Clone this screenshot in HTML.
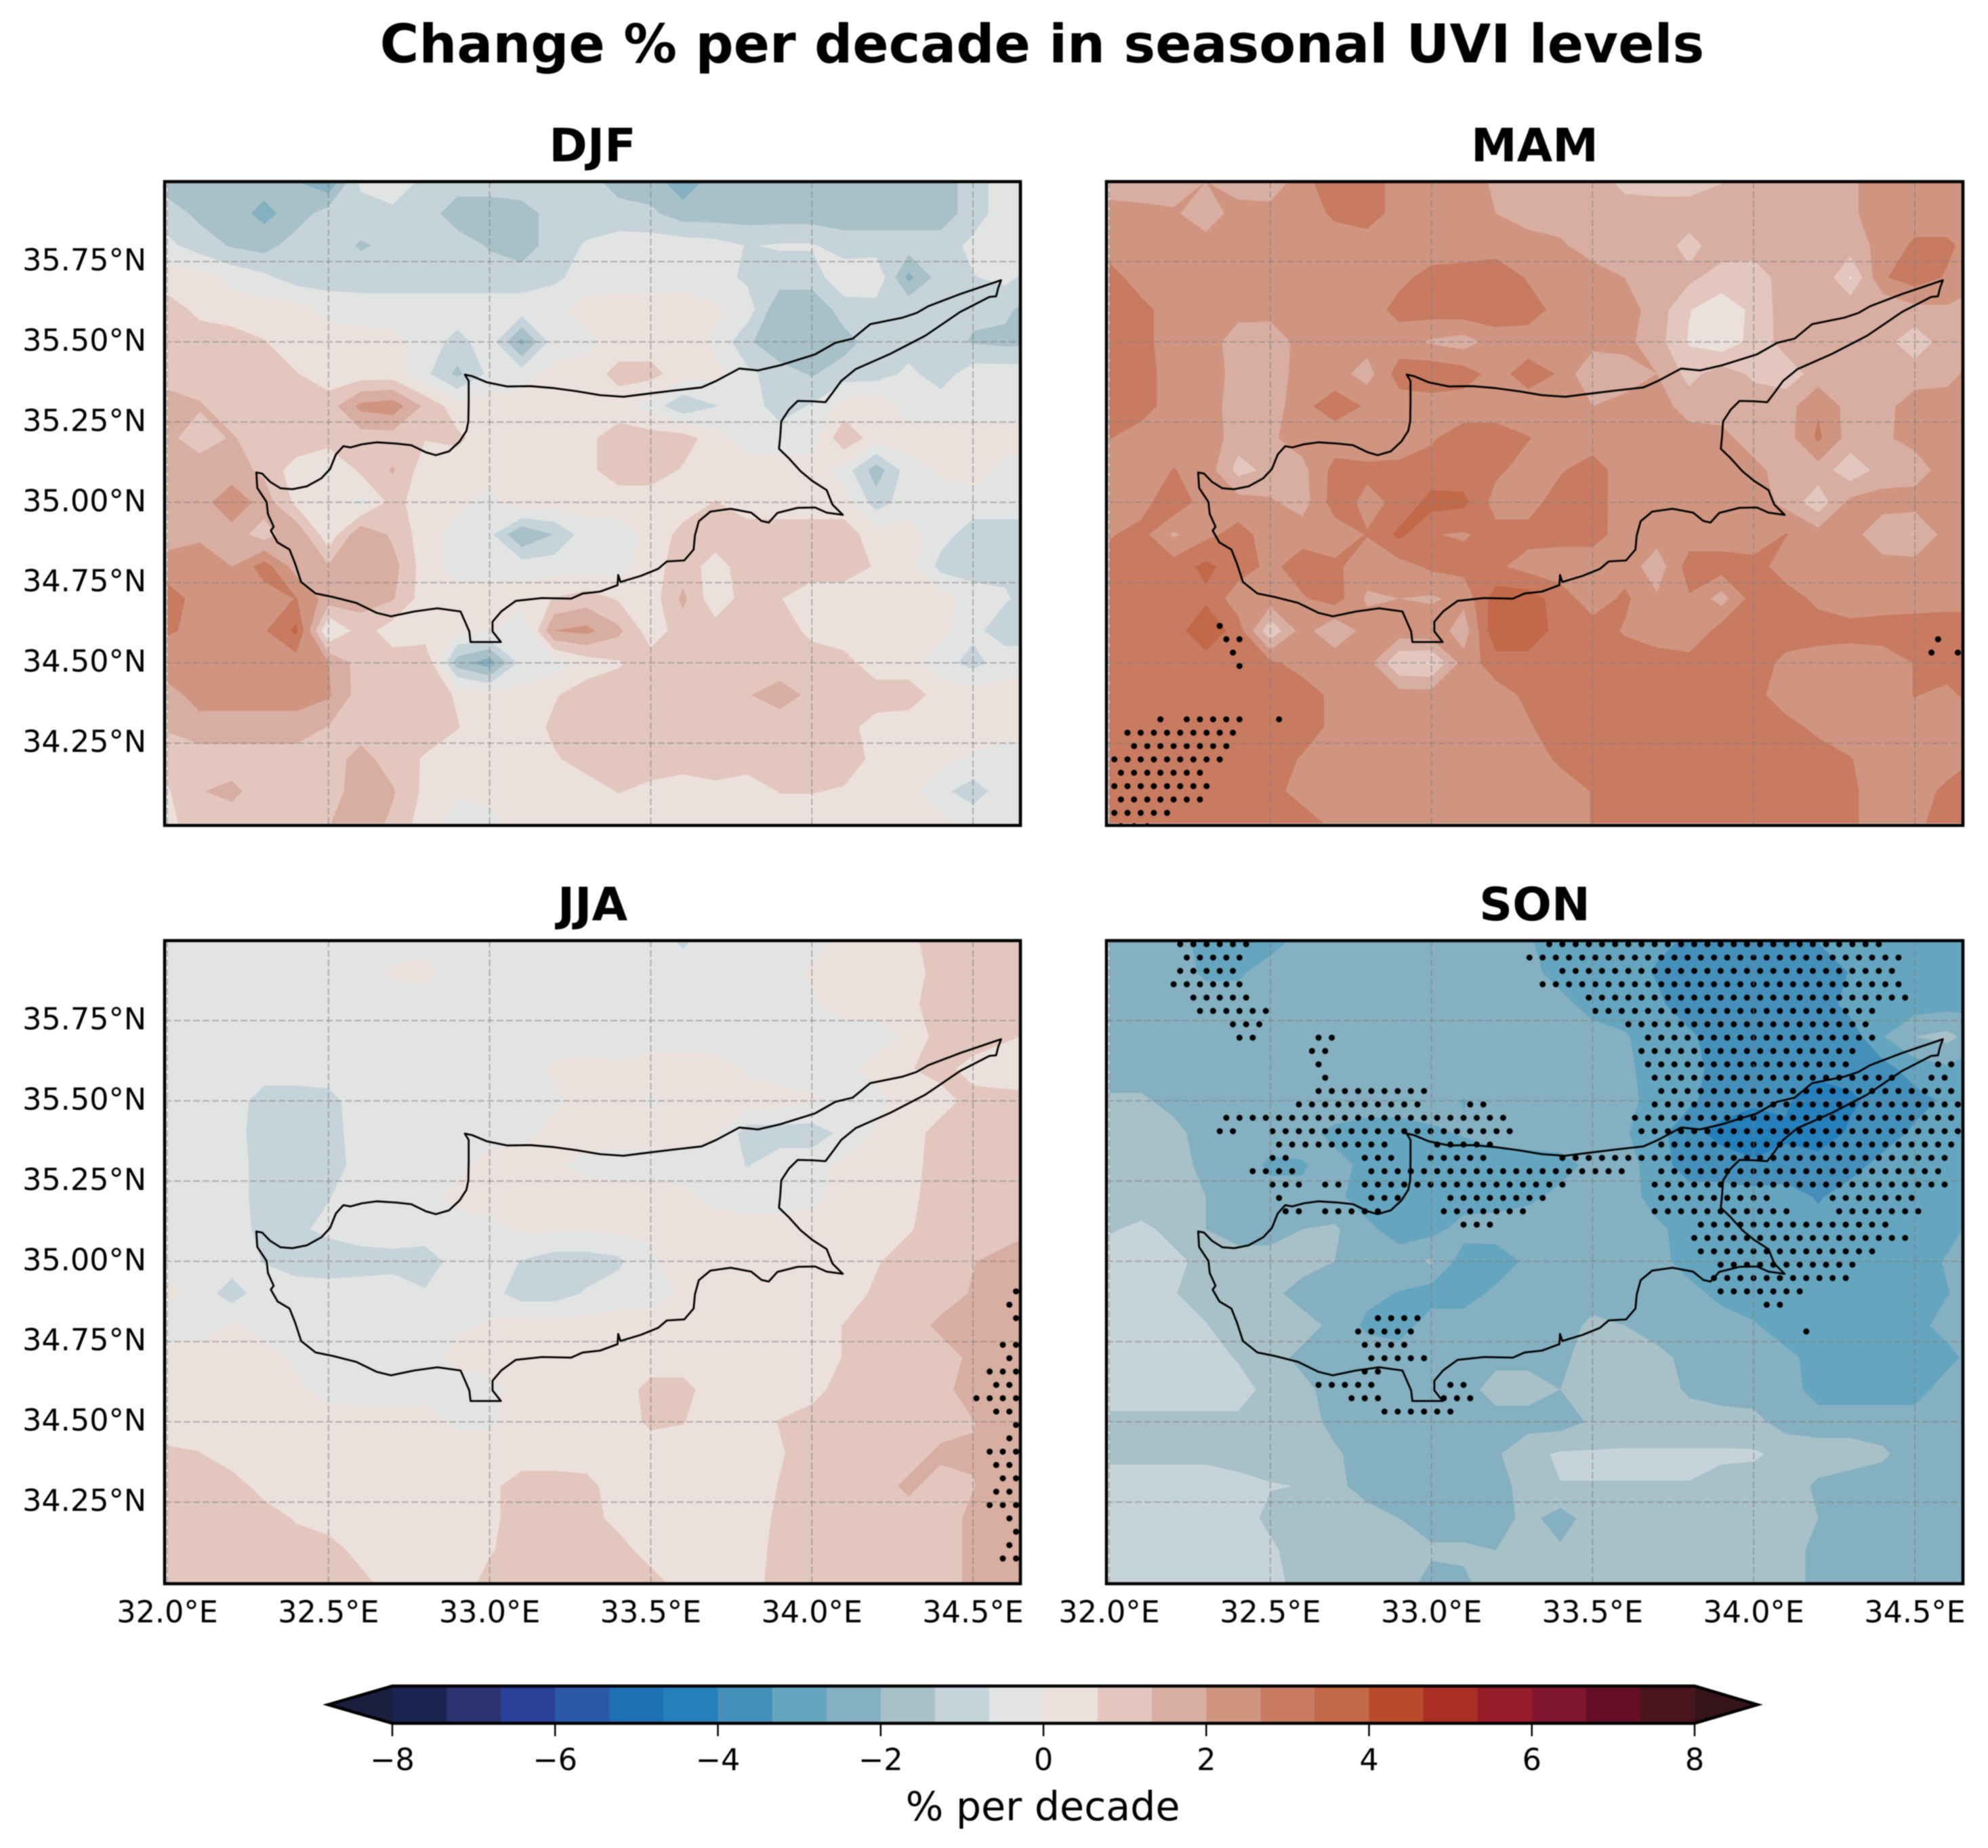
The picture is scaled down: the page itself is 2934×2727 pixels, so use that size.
<!DOCTYPE html>
<html lang="en">
<head>
<meta charset="utf-8">
<title>Change % per decade in seasonal UVI levels</title>
<style>
html,body{margin:0;padding:0;background:#fff;}
svg{display:block;filter:blur(0.9px);}
text{font-family:"DejaVu Sans","Liberation Sans",sans-serif;fill:#000;}
</style>
</head>
<body>
<svg id="figure" xmlns="http://www.w3.org/2000/svg" width="2934" height="2727" viewBox="0 0 2934 2727">
<rect x="0" y="0" width="2934" height="2727" fill="#ffffff"/>
<text x="1538" y="92" font-size="78.6" font-weight="700" text-anchor="middle">Change % per decade in seasonal UVI levels</text>
<text x="1539" y="2686" font-size="58.6" text-anchor="middle">% per decade</text>
</svg>
<script>
const gridLons = [32.0,32.1,32.2,32.3,32.4,32.5,32.6,32.7,32.8,32.9,33.0,33.1,33.2,33.3,33.4,33.5,33.6,33.7,33.8,33.9,34.0,34.1,34.2,34.3,34.4,34.5,34.6,34.7];
const gridLats = [36.0,35.9,35.8,35.7,35.6,35.5,35.4,35.3,35.2,35.1,35.0,34.9,34.8,34.7,34.6,34.5,34.4,34.3,34.2,34.1,34.0];
const lonTicks = [32.0,32.5,33.0,33.5,34.0,34.5];
const latTicks = [35.75,35.5,35.25,35.0,34.75,34.5,34.25];
const colorbarTicks = [-8,-6,-4,-2,0,2,4,6,8];
const colorbarLevels = [-8,-7.333,-6.667,-6,-5.333,-4.667,-4,-3.333,-2.667,-2,-1.333,-0.667,0,0.667,1.333,2,2.667,3.333,4,4.667,5.333,6,6.667,7.333,8];
const colorbarColors = ["#1c2452","#2a3270","#2a3f96","#2b59a7","#1f6fb5","#257fbb","#458fbb","#65a5bf","#85b0c1","#a8c0c7","#c7d3da","#e2e4e4","#ece0dd","#e3c7bf","#d9aea2","#d09580","#c97b61","#c36848","#b84b2c","#a82e26","#961c2a","#7f162d","#640f27","#49151d"];
const underColor = "#1a1f40";
const overColor = "#34141a";

const djfValues = [
[-1.7,-1.7,-1.7,-1.7,-2,-2.6,-.5,.2,-1,-1,-1,-.8,-1,-1,-1.7,-1.7,-2.4,-1.7,-1.7,-1.7,-1.7,-1.7,-1.7,-1.7,-1.7,-1,-.3,-.3],
[-1,-1.5,-1.7,-2.2,-1.7,-1,-1,-1,-1,-1.7,-1.7,-1.7,-1,-1,-1,-1.2,-1.7,-1.7,-1.7,-1.7,-1.7,-1.7,-1.7,-1.7,-1.7,-1,-.3,-.3],
[-.5,-1,-1.4,-1.6,-1,-1,-1.4,-1.2,-1,-1,-1.4,-1.7,-1,-.6,-.4,-.3,-.3,-.4,-.7,-.6,-.6,-1,-1,-1,-1,-.5,-.3,-.3],
[.3,.3,-.2,-.5,-1,-1,-1,-1,-1,-1,-1,-1,-.8,-.4,-.3,-.3,-.2,-.4,-.8,-1,-1,-.2,-.1,-2.2,-1,-.7,-.5,-1],
[1,.5,.3,.3,.3,-.2,-.3,-.3,-.3,-.3,-.3,-.3,-.2,.3,.3,.3,.3,.1,-.3,-1.9,-1.9,-1,-1,-.7,-1,-1.2,-1.2,-1.7],
[1,1,1,.7,.3,.3,.3,.2,-.3,-.9,-.3,-2.2,-.3,-.2,.3,.3,.3,-.1,-1.2,-1.9,-1.9,-1.6,-1,-1,-1,-1.4,-1.5,-1.5],
[1,1,1,1,.7,.3,.3,.3,-.5,-1.5,-.5,-.3,.2,.3,.9,.9,.3,.2,-.5,-1,-1.4,-1,-1,-.5,-1,-.3,-.3,-.3],
[1.7,1.4,1,1,1,1,2.2,2.4,1.2,.3,.3,.3,.3,.3,.3,-.3,-1.2,-.7,-.3,-1,-.6,.3,.5,-.3,-.3,-.3,-.3,-.3],
[1.5,1,1.4,1,1.2,1,1,1,.7,.8,.3,.3,.3,.5,1,1,1,.3,-.3,-.3,-.3,1.2,.3,.3,.3,.3,.3,.3],
[1.7,1.7,1.6,1.2,.3,-.1,.8,1.4,.3,.3,.3,.3,.3,.5,1,1,.6,.3,.3,.3,.3,-.3,-1.7,-.3,.1,.3,-.3,-.3],
[1.7,1.7,2.5,1.7,.5,.4,-.2,.9,.3,.2,-.3,.6,.3,.3,.3,.3,.3,.7,.3,.3,.3,.3,-1,-.3,-.3,-.3,-.3,-.3],
[1.7,1.9,1.7,1,1.9,.2,1.9,1.2,.3,-.3,-.5,-2,-1.3,-.3,-.3,.2,.9,1,1,1,1,1,.3,.3,-.4,-1,-1,-1],
[2.3,2.3,2,3,1.7,1.4,1.8,1.6,.3,-.3,-.3,-.3,-.3,-.3,-.3,.4,1,.4,1,1,1,1,.6,.3,-.9,-1,-.8,-1],
[3,2.4,2.4,2.3,2.7,1.7,1.6,1.4,.3,.3,.3,.3,.7,1,.6,.3,1.5,.2,1,.7,.3,.3,.3,.3,.3,-.3,-.6,-1],
[2.7,2.6,2.5,2.6,3.5,-.1,1,.3,.2,.1,.1,-.6,2,2.2,1.5,.3,1,1,1,1,.5,.3,.3,.3,.2,-.5,-1,-1],
[2.5,2.5,2.5,2.4,2.3,2,1,1,1.3,-1.7,-2.4,-.4,-.3,.3,.6,1,1,1,1,1,1,.9,.3,.3,-.4,-.9,-.3,-.3],
[1.7,2.3,2.3,2.3,2.3,2.1,1,1,1,.6,.3,.2,.6,1,1,1.1,1,1,1.3,1.6,1.2,1,1,1,.4,.3,.3,.3],
[1.4,1.7,1.7,1.7,1.7,1.3,1,1,1,.7,.3,.3,.8,1,1,1,1,1,1,1,1,.9,.4,.3,.6,.3,.3,.3],
[1,1,1,1,1,1,1.6,1,.6,.3,.3,.3,.6,.9,1,1,1,1,1,1,1,1,.5,.3,.2,-.1,-.3,-.3],
[.6,1.3,1.5,1,1,1,1.7,1.4,.5,.1,.2,.3,.4,.4,.7,.5,.3,.5,.3,.7,.7,.6,.3,.3,-.5,-1,-.3,-.3],
[.5,1,1,1,.9,1.3,1.7,1.2,.3,-.3,-.2,.3,.3,.3,.3,.3,.3,.3,.3,.3,.3,.3,.3,.3,.2,-.2,-.3,-.3]
];

const mamValues = [
[1.6,1.4,1.6,2,1.6,1.5,2.4,3.2,3,2.4,2.3,2.3,1.9,1.7,1.7,1.7,1.1,1,1,1.3,1.7,1.7,1.7,1.9,2.3,2.3,2.3,2.3],
[2.3,2.3,2.1,1.6,2.3,2.3,2.3,2.8,3,2.4,2.3,2.3,2,1.7,1.7,1.7,1.7,1.7,1.7,1.7,1.7,1.7,1.7,1.9,2.3,2.3,2.3,2.3],
[2.3,2.3,2.3,2.3,2.3,2.3,2.3,2.3,2.3,2.3,2.3,2.3,2.3,2.3,2.1,1.7,1.7,1.7,1.1,1.7,1.7,1.7,1.7,1.7,2.2,2.8,2.8,2.3],
[3,2.3,2.3,2.3,2.3,2.3,2.3,2.3,2.3,2.5,2.9,3,3.2,2.6,2.3,2.3,2,1.7,1.5,1,.9,1.7,2,.6,2.6,3,2.6,2.3],
[3,2.9,2.3,2.3,2.2,2.3,2.3,2.3,2.3,2.9,3,3.1,3.1,3,2.4,2.3,2.3,1.7,.7,.3,.8,1.7,1.8,1.9,1.4,1.8,1.9,1.4],
[3,2.9,2.3,2.3,1.7,1.5,2.3,2.3,2.3,2.3,1.9,1.7,2.3,2.3,2.3,2.3,2.2,1.6,.6,.2,.9,1.6,1.5,1.6,1.6,.9,1.7,2.1],
[3,3,2.3,2.3,1.8,1.6,2.3,2.3,1.7,3,3.2,3,2.4,3,2.6,1.3,1.7,2,1.1,1.7,1.2,1,1.6,1.7,1.5,1.7,1.8,2.3],
[3,3,2.3,2.3,1.7,1.6,2.5,3,2.6,2.3,2.3,2.3,2.3,2.3,2.3,2,2.2,2.3,1.7,1.7,1.7,1.7,2.6,1.7,1.8,2.3,2.3,2.3],
[2.7,2.3,2.3,2.5,1.6,1.9,2.3,2.3,2.3,2.6,2.6,3,3,2.7,2.4,2.3,2.3,2.3,2.3,2.2,1.7,1.7,2.8,1.7,1.9,2.2,2.3,2.3],
[2.3,2.3,2.7,2.4,1.1,1.5,1.8,2.9,2.8,2.7,2.9,3,2.8,2.4,2.6,3,2.3,2.3,2.3,2.3,2.2,1.7,1.7,.9,1.6,1.7,2.3,2.3],
[2.3,2.4,3.2,2.3,2.3,2.1,1.7,3,2.5,2.8,3.6,3.5,2.4,2.4,3,3,2.3,2.3,2.3,2.3,2.3,1.8,.9,2.2,2.3,2.3,2.3,2.3],
[2.6,2.9,1.9,2.5,2.9,2.4,2.4,2.3,2.7,3.5,2.7,2.6,2.9,2.9,2.9,2.9,2.4,2.3,2.3,2.3,2.1,2.7,2.3,2.3,1.5,1.3,2.3,2.3],
[3,3,3,3.5,3,2.5,3,2.8,2.3,2.4,2.8,2.9,2.8,2.4,2.3,2.3,2.4,1.6,3,3,3,2.3,2.3,2.3,2.3,2.3,2.3,2.3],
[3,3,3,3.2,2.3,2.4,2.6,3,1.9,2,1.9,2.2,3.7,3.7,3,2.3,2.8,2.1,2.6,1.7,3,3,2.5,2.3,2.3,2.3,2.3,2.3],
[3,3,3,3.9,3,.8,2.3,1.4,2.3,2.4,2.5,1.6,3.9,3.9,3,3,2.6,2.3,2,3,3,3,3,2.9,3,3.1,3.2,3.2],
[3,3,3,3,3,2.8,2.4,2.5,2.3,.7,.6,2.3,3,3,3,3,3,3,3,3,3,2.5,2.3,2.3,2.3,2.7,3,3],
[3,3,3,3,3,3,3,2.5,2.3,2.3,2.3,2.3,2.4,2.8,3,3,3,3,3,3,2.9,2.3,2.3,2.3,2.3,2.7,2.5,3],
[3,3,3,3,3,3,3,2.5,2.3,2.3,2.3,2.3,2.4,2.6,3,3,3,3,3,3,3,2.9,2.5,2.3,2.3,2.3,2.3,2.3],
[3,3,3,3,3,3,2.6,2.3,2.3,2.3,2.3,2.3,2.3,2.3,2.8,3,3,3,3,3,3,3,3,2.7,2.3,2.3,2.4,2.7],
[3,3,3,3,3,2.9,2.4,2.3,2.3,2.3,2.3,2.3,2.3,2.3,2.3,2.7,3,3,3,3,3,3,3,2.8,2.3,2.4,2.8,3],
[3,3,3,3,3,3,3,2.5,2.3,2.3,2.3,2.3,2.3,2.3,2.3,2.7,3,3,3,3,3,3,3,2.8,2.3,2.5,3,3]
];

const jjaValues = [
[-.3,-.3,-.3,-.3,-.3,-.5,-.3,-.3,-.3,-.3,-.3,-.3,-.3,-.3,-.3,-.3,-.8,-.3,-.3,-.3,-.3,.3,.3,.5,1,1,1,1],
[-.3,-.3,-.3,-.3,-.3,-.3,-.3,.1,.2,-.3,-.3,-.3,-.3,-.3,-.3,-.3,-.3,-.3,-.3,-.3,.1,.3,.3,.3,1,1,1,1],
[-.3,-.3,-.3,-.3,-.3,-.3,-.3,-.3,-.3,-.3,-.3,-.3,-.3,-.3,-.3,-.3,-.3,-.3,-.3,-.3,-.1,.3,.3,.5,1,1,1,1],
[-.3,-.3,-.3,-.3,-.3,-.3,-.3,-.3,-.3,-.3,-.3,-.3,-.3,-.3,-.3,-.3,-.3,-.3,-.3,-.3,-.3,-.3,-.3,.1,1,1.2,.8,.5],
[-.3,-.3,-.3,-.3,-.3,-.3,-.3,-.3,-.3,-.3,-.3,-.3,.1,.2,.1,.3,.3,.3,-.1,-.3,-.3,-.2,.3,.6,1,.3,.1,-.1],
[-.3,-.3,-.3,-1,-1,-.9,-.3,-.3,-.3,-.3,-.3,-.3,-.1,.2,.2,-.1,.2,.3,.3,.3,.1,-.3,-.2,.3,.3,1,1,1],
[-.3,-.3,-.4,-1,-1,-1,-.3,-.3,-.3,-.3,-.3,-.2,.2,.3,.3,.3,.3,.1,-1,-1,-1,-.5,.1,.3,1,1,1,1],
[-.3,-.3,-.3,-1,-1,-1,-.4,-.3,-.3,-.2,.3,.3,.1,-.2,-.3,-.3,-.3,-.3,-.7,-.3,-.3,.2,.3,.4,1,1,1,1],
[-.3,-.3,-.3,-1,-.9,-.7,-.3,-.3,-.2,.2,.3,.3,.3,.3,.3,.3,.2,-.2,-.3,-.3,-.2,.3,.3,.5,1,1,1,1],
[-.3,-.3,-.3,-.9,-.8,-.5,-.3,-.3,-.3,-.3,-.2,.1,.1,.1,.1,.1,.3,.3,.3,.3,.3,.3,.3,.6,1,1,1,1.3],
[-.3,-.3,-.3,-.7,-1,-1.1,-1,-.9,-1,-.4,-.3,-.7,-1,-1,-.8,-.1,.3,.3,.3,.3,.3,.3,.6,1,1,1.3,1.6,1.7],
[.2,-.3,-1,-.3,-.3,-.3,-.3,-.3,-.6,-.3,-.4,-1,-1,-.6,-.3,-.3,.1,.3,.3,.3,.3,.3,.8,1,1,1.4,1.8,1.8],
[-.3,-.3,.1,-.2,-.3,-.3,-.3,-.3,-.3,-.1,.1,.3,.3,.3,.3,.3,.3,.3,.3,.3,.3,.7,1,1,1.5,1.8,1.8,1.7],
[.3,.3,.3,.2,-.1,-.2,-.3,-.3,-.2,.2,.3,.3,.3,.3,.3,.3,.3,.3,.3,.3,.3,.7,1,1,1,1.5,1.8,1.8],
[.3,.3,.3,.3,.1,-.2,-.3,-.3,-.3,-.3,-.2,.3,.3,.5,.3,.9,.9,.3,.3,.3,.4,1,1,1,1.1,1.7,1.8,1.8],
[.3,.3,.3,.3,.3,.3,.3,.3,.3,-.1,-.1,.3,.3,.3,.3,.8,.7,.3,.3,.7,1,1,1,1,1,1.3,1.7,1.8],
[.8,.7,.3,.3,.3,.3,.3,.3,.3,.3,.3,.3,.3,.3,.3,.3,.3,.3,.3,.6,1,1,1,1,1.5,1.4,1.8,1.8],
[1,1,1,.4,.3,.3,.3,.3,.3,.3,.5,1,1,.9,.3,.3,.3,.3,.3,.7,1,1,1,1.5,1,1.3,1.8,1.8],
[1,1,1,1,.6,.3,.3,.3,.3,.3,.5,1,1,1,.4,.3,.3,.3,.3,.8,1,1,1,1,1,1.5,1.8,1.8],
[1,1,1,1,1,1,.4,.3,.3,.3,.6,1,1,1,1,.3,.3,.3,.3,.9,1,1,1,1,1,1.5,1.8,1.8],
[1,1,1,1,1,1,.9,.3,.3,.3,.9,1,1,1,1,1,.3,.3,.3,1,1,1,1,1,1,1.5,1.8,1.8]
];

const sonValues = [
[-2.3,-2.3,-2.4,-2.9,-3,-3,-2.4,-2.3,-2.3,-2.3,-2.2,-2.3,-2.3,-2.6,-3,-3,-3,-3.2,-3.4,-3.5,-3.5,-3.5,-3.3,-3,-3,-3,-3,-3],
[-2.3,-2.3,-2.3,-2.8,-2.8,-2.3,-2.3,-2.3,-2.3,-2.3,-2.3,-2.3,-2.3,-2.4,-3,-3,-3,-3.4,-3.8,-3.8,-3.8,-3.8,-3.7,-3.3,-3,-3,-3,-3],
[-2.3,-2.3,-2.3,-2.3,-2.3,-2.3,-2.3,-2.3,-2.3,-2.3,-2.3,-2.3,-2.3,-2.3,-2.4,-3,-3,-3.2,-3.7,-3.8,-3.9,-3.8,-3.7,-3.1,-3,-3,-2.9,-2.8],
[-2.2,-2.3,-2.3,-2.3,-2.3,-2.3,-2.3,-2.3,-2.3,-2.3,-2.3,-2.3,-2.3,-2.3,-2.3,-2.3,-2.6,-3,-3.2,-3.7,-3.8,-3.8,-3.7,-3.7,-2.7,-2,-1.8,-2.4],
[-2.3,-2.3,-2.3,-2.3,-2.3,-2.3,-2.3,-2.3,-2.3,-2.3,-2.3,-2.3,-2.3,-2.3,-2.3,-2.3,-2.5,-3,-3.1,-3.6,-3.7,-3.6,-3.7,-3.8,-3.6,-3,-2.8,-3],
[-1.9,-1.9,-2.2,-2.3,-2.3,-2.3,-2.3,-2.3,-2.3,-2.3,-2.3,-2.7,-2.4,-2.3,-2.3,-2.3,-2.4,-3,-3.2,-3.7,-3.8,-3.9,-4.5,-4.1,-3.8,-3.6,-3.2,-3],
[-1.7,-1.7,-1.8,-2.3,-2.3,-2.3,-2.5,-2.8,-3,-3,-2.8,-2.6,-2.4,-2.3,-2.3,-2.3,-2.6,-3.1,-3.8,-4.2,-4.7,-4.1,-4.4,-3.9,-3.7,-3.2,-3,-3],
[-1.7,-1.7,-1.7,-2.2,-2.3,-2.8,-2.7,-2.5,-2.8,-2.9,-3,-3.1,-3,-3,-2.9,-2.5,-2.4,-3,-3.7,-3.7,-3.8,-3.8,-3.7,-3.6,-3.1,-3,-3,-3],
[-1.7,-1.7,-1.7,-2,-2.3,-2.4,-2.6,-2.5,-3,-3,-3,-3,-3,-2.8,-2.5,-2.3,-2.3,-3,-3,-3,-3.1,-3,-3.4,-3,-3,-3,-3,-2.8],
[-1.4,-1.2,-1.5,-2,-2.3,-2.3,-2,-1.9,-2.5,-3,-2.9,-2.4,-2.3,-2.3,-2.3,-2.3,-2.3,-2.5,-3,-3,-3,-3,-3.1,-3,-3,-2.9,-2.9,-2.4],
[-1,-1,-1.2,-1.5,-1.7,-1.7,-1.7,-2,-2.3,-2.3,-1.9,-3,-3.1,-2.5,-2.3,-2.3,-2.3,-2.4,-3,-3,-3,-3,-3,-3,-3,-3,-2.6,-2.3],
[-1,-1,-1.3,-1.6,-1.7,-1.8,-2.3,-2.3,-2.5,-2.7,-3,-3,-2.5,-2.3,-2.3,-2.2,-2.2,-2.3,-2.4,-2.9,-3,-3,-3,-3,-3,-3,-2.7,-2.3],
[-1,-1,-1,-1.3,-1.7,-1.7,-1.7,-2.2,-2.8,-3,-2.3,-2.3,-2.3,-2.3,-2.2,-1.9,-2,-2.3,-2.3,-2.3,-2.6,-3,-3,-3,-3,-2.9,-2.4,-2.3],
[-1,-1,-1,-1,-1.4,-1.7,-2.2,-2.3,-2.3,-2.3,-2.3,-2.3,-2.2,-2.2,-2.1,-1.8,-1.7,-1.8,-2.2,-2.3,-2.3,-2.5,-2.9,-3,-3,-3,-2.9,-2.3],
[-1,-1,-1,-1,-1,-1.6,-1.8,-2.3,-2.3,-2.3,-2.3,-2.3,-1.7,-1.7,-2,-1.7,-1.7,-1.7,-2.1,-2.3,-2.3,-2.3,-3,-3,-3,-3,-2.3,-2.3],
[-1.5,-1.5,-1.5,-1.5,-1.5,-1.6,-1.7,-2.2,-2.3,-2.6,-2.6,-2.3,-2.3,-2.3,-2.3,-1.9,-1.7,-1.7,-1.7,-1.7,-1.8,-2.3,-2.3,-2.3,-2.3,-2.3,-2.3,-2.3],
[-1.5,-1.5,-1.5,-1.5,-1.5,-1.55,-1.6,-1.9,-2.3,-2.3,-2.3,-2.3,-2.1,-1.5,-1.25,-1.25,-1.25,-1.25,-1.25,-1.25,-1.25,-1.5,-1.7,-1.7,-1.9,-2.3,-2.3,-2.3],
[-1,-1,-1,-1,-1.2,-1.3,-1.35,-1.8,-2.3,-2.3,-2.3,-2.3,-2.3,-1.7,-1.35,-1.35,-1.35,-1.35,-1.35,-1.5,-1.6,-1.7,-2.1,-2.3,-2.3,-2.3,-2.3,-2.3],
[-1,-1,-1,-1,-1,-1.5,-1.7,-1.7,-1.7,-2,-2.3,-2.3,-2.3,-1.8,-2.3,-1.7,-1.7,-1.7,-1.7,-1.7,-1.7,-1.7,-2,-2.3,-2.3,-2.3,-2.3,-2.3],
[-1,-1,-1,-1,-1,-1.2,-1.7,-1.7,-1.7,-1.7,-1.9,-1.9,-2,-1.7,-1.9,-1.7,-1.7,-1.7,-1.7,-1.7,-1.7,-1.7,-2.2,-2.3,-2.3,-2.3,-2.3,-2.3],
[-1,-1,-1,-1,-1,-1.1,-1.6,-1.7,-1.7,-1.7,-2.2,-2.1,-1.7,-1.7,-1.7,-1.7,-1.7,-1.7,-1.7,-1.7,-1.7,-1.7,-2.2,-2.3,-2.3,-2.4,-2.3,-2.3]
];

const mamStippleRows = [
[33,32.33,32.35],[34,32.35,32.41],[35,32.37,32.39],[36,32.40,32.42],
[34,34.55,34.57],[34,34.63,34.65],[35,34.56,34.58],[35,34.61,34.63],
[40,32.14,32.16],[40,32.23,32.42],[40,32.52,32.54],[41,32.05,32.39],[42,32.07,32.37],
[43,32.01,32.35],[44,32.03,32.29],[45,32.01,32.30],[46,32.03,32.28],[47,32.01,32.18],[48,32.03,32.14]
];

const jjaStippleRows = [
[26,34.61,34.65],[27,34.61,34.63],[28,34.63,34.65],[30,34.59,34.65],[31,34.61,34.63],
[32,34.55,34.65],[33,34.57,34.63],[34,34.52,34.65],[35,34.57,34.63],[36,34.63,34.65],
[37,34.61,34.63],[38,34.55,34.65],[39,34.57,34.63],[40,34.59,34.65],[41,34.57,34.63],
[42,34.55,34.65],[43,34.61,34.63],[44,34.63,34.65],[45,34.61,34.63],[46,34.59,34.65]
];

const sonStippleRows = [
[0,32.22,32.43],[0,33.36,34.38],[1,32.24,32.40],[1,33.31,34.44],[2,32.21,32.40],[2,33.39,34.44],
[3,32.21,32.40],[3,33.35,34.44],[4,32.25,32.43],[4,33.50,34.46],[5,32.28,32.50],[5,33.48,34.36],
[6,32.38,32.48],[6,33.61,34.37],[7,32.41,32.44],[7,32.65,32.70],[7,33.65,34.37],
[8,32.63,32.685],[8,33.65,34.30],[9,32.65,32.67],[9,33.65,34.30],[9,34.55,34.64],
[10,32.67,32.68],[10,33.70,34.42],[10,34.53,34.60],[11,32.65,32.98],[11,33.72,34.64],
[12,32.59,32.98],[12,33.11,33.16],[12,33.70,34.64],[13,32.35,32.46],[13,32.49,33.24],[13,33.61,34.64],
[14,32.32,32.38],[14,32.50,33.24],[14,33.66,34.64],[15,32.52,32.86],[15,33.00,33.20],[15,33.70,34.64],
[16,32.50,32.56],[16,32.79,32.87],[16,33.00,33.18],[16,33.38,34.60],
[17,32.45,32.57],[17,32.79,33.58],[17,33.69,34.60],
[18,32.48,32.59],[18,32.68,32.73],[18,32.80,33.43],[18,33.70,34.59],
[19,32.52,32.54],[19,32.80,32.91],[19,33.04,33.35],[19,33.72,34.05],[19,34.23,34.51],
[20,32.55,32.59],[20,32.68,32.86],[20,33.05,33.29],[20,33.68,34.10],[20,34.24,34.50],
[21,33.11,33.20],[21,33.81,34.42],[22,33.79,34.46],[23,33.82,34.39],[24,33.87,34.33],
[25,33.87,34.30],[26,33.87,34.15],[27,34.05,34.11],[28,32.84,32.97],[29,32.75,32.94],[29,34.14,34.18],
[30,32.77,32.94],[31,32.82,32.99],[32,32.79,32.85],[33,32.65,32.83],[33,33.05,33.11],
[34,32.75,32.85],[34,33.05,33.13],[35,32.85,33.07]
];

const coastLons = [32.276,32.294,32.319,32.351,32.388,32.433,32.478,32.505,32.523,32.546,32.568,32.604,32.649,32.712,32.757,32.802,32.833,32.874,32.907,32.928,32.934,32.935,32.935,32.923,32.946,32.991,33.054,33.127,33.199,33.271,33.343,33.415,33.487,33.577,33.658,33.703,33.775,33.833,33.902,34.010,34.073,34.127,34.181,34.280,34.325,34.361,34.460,34.587,34.578,34.572,34.551,34.460,34.352,34.244,34.136,34.091,34.064,34.042,34.001,33.956,33.929,33.905,33.902,33.898,33.929,33.965,34.001,34.046,34.064,34.096,34.046,34.010,33.956,33.893,33.866,33.844,33.812,33.748,33.685,33.649,33.637,33.633,33.604,33.550,33.523,33.469,33.406,33.399,33.397,33.343,33.289,33.253,33.163,33.081,33.036,33.009,33.009,33.035,32.941,32.937,32.910,32.838,32.766,32.694,32.649,32.586,32.514,32.460,32.415,32.397,32.379,32.342,32.321,32.330,32.312,32.308,32.279];
const coastLats = [35.093,35.090,35.064,35.044,35.041,35.050,35.075,35.104,35.149,35.175,35.171,35.181,35.187,35.183,35.178,35.156,35.147,35.159,35.190,35.223,35.252,35.312,35.378,35.398,35.393,35.374,35.361,35.362,35.356,35.346,35.334,35.329,35.338,35.349,35.358,35.378,35.417,35.411,35.427,35.461,35.497,35.510,35.555,35.575,35.590,35.611,35.649,35.692,35.667,35.642,35.640,35.593,35.519,35.463,35.415,35.378,35.341,35.312,35.315,35.316,35.289,35.252,35.208,35.167,35.137,35.097,35.067,35.038,34.993,34.961,34.968,34.984,34.983,34.967,34.937,34.942,34.968,34.980,34.971,34.941,34.897,34.853,34.819,34.816,34.793,34.771,34.752,34.774,34.742,34.722,34.716,34.700,34.702,34.693,34.660,34.628,34.598,34.565,34.565,34.598,34.660,34.670,34.660,34.645,34.656,34.687,34.705,34.716,34.752,34.808,34.853,34.875,34.912,34.924,34.964,35.001,35.045];

const NS = "http://www.w3.org/2000/svg";
const figure = document.getElementById("figure");
const PX_PER_LON = 475.6;
const PX_PER_LAT = 473.7;
const STIPPLE_LAT_TOP = 35.988;
const STIPPLE_LAT_STEP = 0.0416;
const STIPPLE_LON_STEP = 0.0409;
const STIPPLE_LON_A = 32.0159;
const STIPPLE_LON_B = 32.0363;

function make(tag, parent, attrs, txt) {
  const el = document.createElementNS(NS, tag);
  for (const k in attrs) el.setAttribute(k, attrs[k]);
  if (txt !== undefined) el.textContent = txt;
  parent.appendChild(el);
  return el;
}
function xScale(lon, x0) { return x0 + (lon - 32) * PX_PER_LON; }
function yScale(lat, y0) { return y0 + (36 - lat) * PX_PER_LAT; }

function bandPath(values, level, x0, y0) {
  let d = "";
  for (let j = 0; j < gridLats.length - 1; j++) {
    for (let i = 0; i < gridLons.length - 1; i++) {
      const pts = [
        [gridLons[i], gridLats[j], values[j][i]],
        [gridLons[i + 1], gridLats[j], values[j][i + 1]],
        [gridLons[i + 1], gridLats[j + 1], values[j + 1][i + 1]],
        [gridLons[i], gridLats[j + 1], values[j + 1][i]]
      ];
      const out = [];
      for (let k = 0; k < 4; k++) {
        const a = pts[k], b = pts[(k + 1) % 4];
        if (a[2] >= level) out.push([a[0], a[1]]);
        if ((a[2] >= level) !== (b[2] >= level)) {
          const t = (level - a[2]) / (b[2] - a[2]);
          out.push([a[0] + t * (b[0] - a[0]), a[1] + t * (b[1] - a[1])]);
        }
      }
      if (out.length > 2) {
        d += "M" + out.map(function (p) {
          return xScale(p[0], x0).toFixed(1) + " " + yScale(p[1], y0).toFixed(1);
        }).join("L") + "Z";
      }
    }
  }
  return d;
}

function drawPanel(key, title, values, stippleRows, parity, frame, x0, y0, showX, showY) {
  const g = make("g", figure, {});
  
  

  const clipId = "clip-" + key;
  const defs = make("defs", g, {});
  const clip = make("clipPath", defs, { id: clipId });
  make("rect", clip, { x: frame[0], y: frame[1], width: frame[2] - frame[0], height: frame[3] - frame[1] });

  const map = make("g", g, { "clip-path": "url(#" + clipId + ")" });
  
  

  for (let b = 0; b < colorbarColors.length; b++) {
    const d = bandPath(values, colorbarLevels[b], x0, y0);
    if (!d) continue;
    const band = make("path", map, { d: d, fill: colorbarColors[b], "fill-rule": "nonzero" });
    
    
  }

  stippleRows.forEach(function (row) {
    const lat = STIPPLE_LAT_TOP - row[0] * STIPPLE_LAT_STEP;
    const even = (row[0] + parity) % 2 === 0;
    const start = even ? STIPPLE_LON_A : STIPPLE_LON_B;
    for (let k = 0; k < 70; k++) {
      const lon = start + k * STIPPLE_LON_STEP;
      if (lon < row[1] - 0.012 || lon > row[2] + 0.012) continue;
      const dot = make("circle", map, { cx: xScale(lon, x0).toFixed(1), cy: yScale(lat, y0).toFixed(1), r: 4.5, fill: "#000" });
      
      
    }
  });

  lonTicks.forEach(function (lon) {
    const x = xScale(lon, x0);
    const line = make("line", map, { x1: x, x2: x, y1: frame[1], y2: frame[3], stroke: "#808080", "stroke-opacity": 0.55, "stroke-width": 2, "stroke-dasharray": "10 4" });
    
    
  });
  latTicks.forEach(function (lat) {
    const y = yScale(lat, y0);
    const line = make("line", map, { x1: frame[0], x2: frame[2], y1: y, y2: y, stroke: "#808080", "stroke-opacity": 0.55, "stroke-width": 2, "stroke-dasharray": "10 4" });
    
    
  });

  const coastD = coastLons.map(function (lon, i) {
    return (i ? "L" : "M") + xScale(lon, x0).toFixed(1) + " " + yScale(coastLats[i], y0).toFixed(1);
  }).join("") + "Z";
  const coast = make("path", map, { d: coastD, fill: "none", stroke: "#000", "stroke-width": 2.8, "stroke-linejoin": "round" });
  
  

  const border = make("rect", g, { x: frame[0], y: frame[1], width: frame[2] - frame[0], height: frame[3] - frame[1], fill: "none", stroke: "#000", "stroke-width": 4.6 });
  
  

  const head = make("text", g, { x: (frame[0] + frame[2]) / 2, y: frame[1] - 30, "font-size": 68, "font-weight": 700, "text-anchor": "middle" }, title);
  
  

  if (showY) {
    latTicks.forEach(function (lat) {
      const t = make("text", g, { x: 216, y: yScale(lat, y0) + 13, "font-size": 44.5, "text-anchor": "end" }, lat.toFixed(2) + "°N");
      
      
    });
  }
  if (showX) {
    lonTicks.forEach(function (lon) {
      const t = make("text", g, { x: xScale(lon, x0), y: frame[3] + 57, "font-size": 44.5, "text-anchor": "middle" }, lon.toFixed(1) + "°E");
      
      
    });
  }
}

drawPanel("djf", "DJF", djfValues, [], 0, [243, 268, 1506, 1218], 247, 267.6, false, true);
drawPanel("mam", "MAM", mamValues, mamStippleRows, 1, [1633, 268, 2897, 1218], 1637, 267.6, false, false);
drawPanel("jja", "JJA", jjaValues, jjaStippleRows, 0, [243, 1388, 1506, 2337], 247, 1387.6, true, true);
drawPanel("son", "SON", sonValues, sonStippleRows, 0, [1633, 1388, 2897, 2337], 1637, 1387.6, true, false);

const CB_TOP = 2488, CB_BOTTOM = 2543, CB_LEFT = 579, CB_RIGHT = 2501, CB_TIP_L = 484, CB_TIP_R = 2594;
function cbarX(v) { return CB_LEFT + (v + 8) * (CB_RIGHT - CB_LEFT) / 16; }
const cbar = make("g", figure, {});


const cbMid = (CB_TOP + CB_BOTTOM) / 2;
const underArrow = make("polygon", cbar, { points: CB_LEFT + "," + CB_TOP + " " + CB_TIP_L + "," + cbMid + " " + CB_LEFT + "," + CB_BOTTOM, fill: underColor });


const overArrow = make("polygon", cbar, { points: CB_RIGHT + "," + CB_TOP + " " + CB_TIP_R + "," + cbMid + " " + CB_RIGHT + "," + CB_BOTTOM, fill: overColor });


colorbarColors.forEach(function (c, i) {
  const x1 = cbarX(colorbarLevels[i]), x2 = cbarX(colorbarLevels[i + 1]);
  const seg = make("rect", cbar, { x: x1, y: CB_TOP, width: x2 - x1 + 0.6, height: CB_BOTTOM - CB_TOP, fill: c });
  
  
});
const outlinePts = [[CB_LEFT, CB_TOP], [CB_RIGHT, CB_TOP], [CB_TIP_R, cbMid], [CB_RIGHT, CB_BOTTOM], [CB_LEFT, CB_BOTTOM], [CB_TIP_L, cbMid]];
const outline = make("polygon", cbar, { points: outlinePts.map(function (p) { return p.join(","); }).join(" "), fill: "none", stroke: "#000", "stroke-width": 4.4 });


colorbarTicks.forEach(function (v) {
  const x = cbarX(v);
  const tick = make("line", cbar, { x1: x, x2: x, y1: CB_BOTTOM, y2: 2562, stroke: "#000", "stroke-width": 2.5 });
  
  
  const label = make("text", cbar, { x: x, y: 2612, "font-size": 44.5, "text-anchor": "middle" }, (v < 0 ? "\u2212" : "") + Math.abs(v));
  
  
});
</script>
</body>
</html>
